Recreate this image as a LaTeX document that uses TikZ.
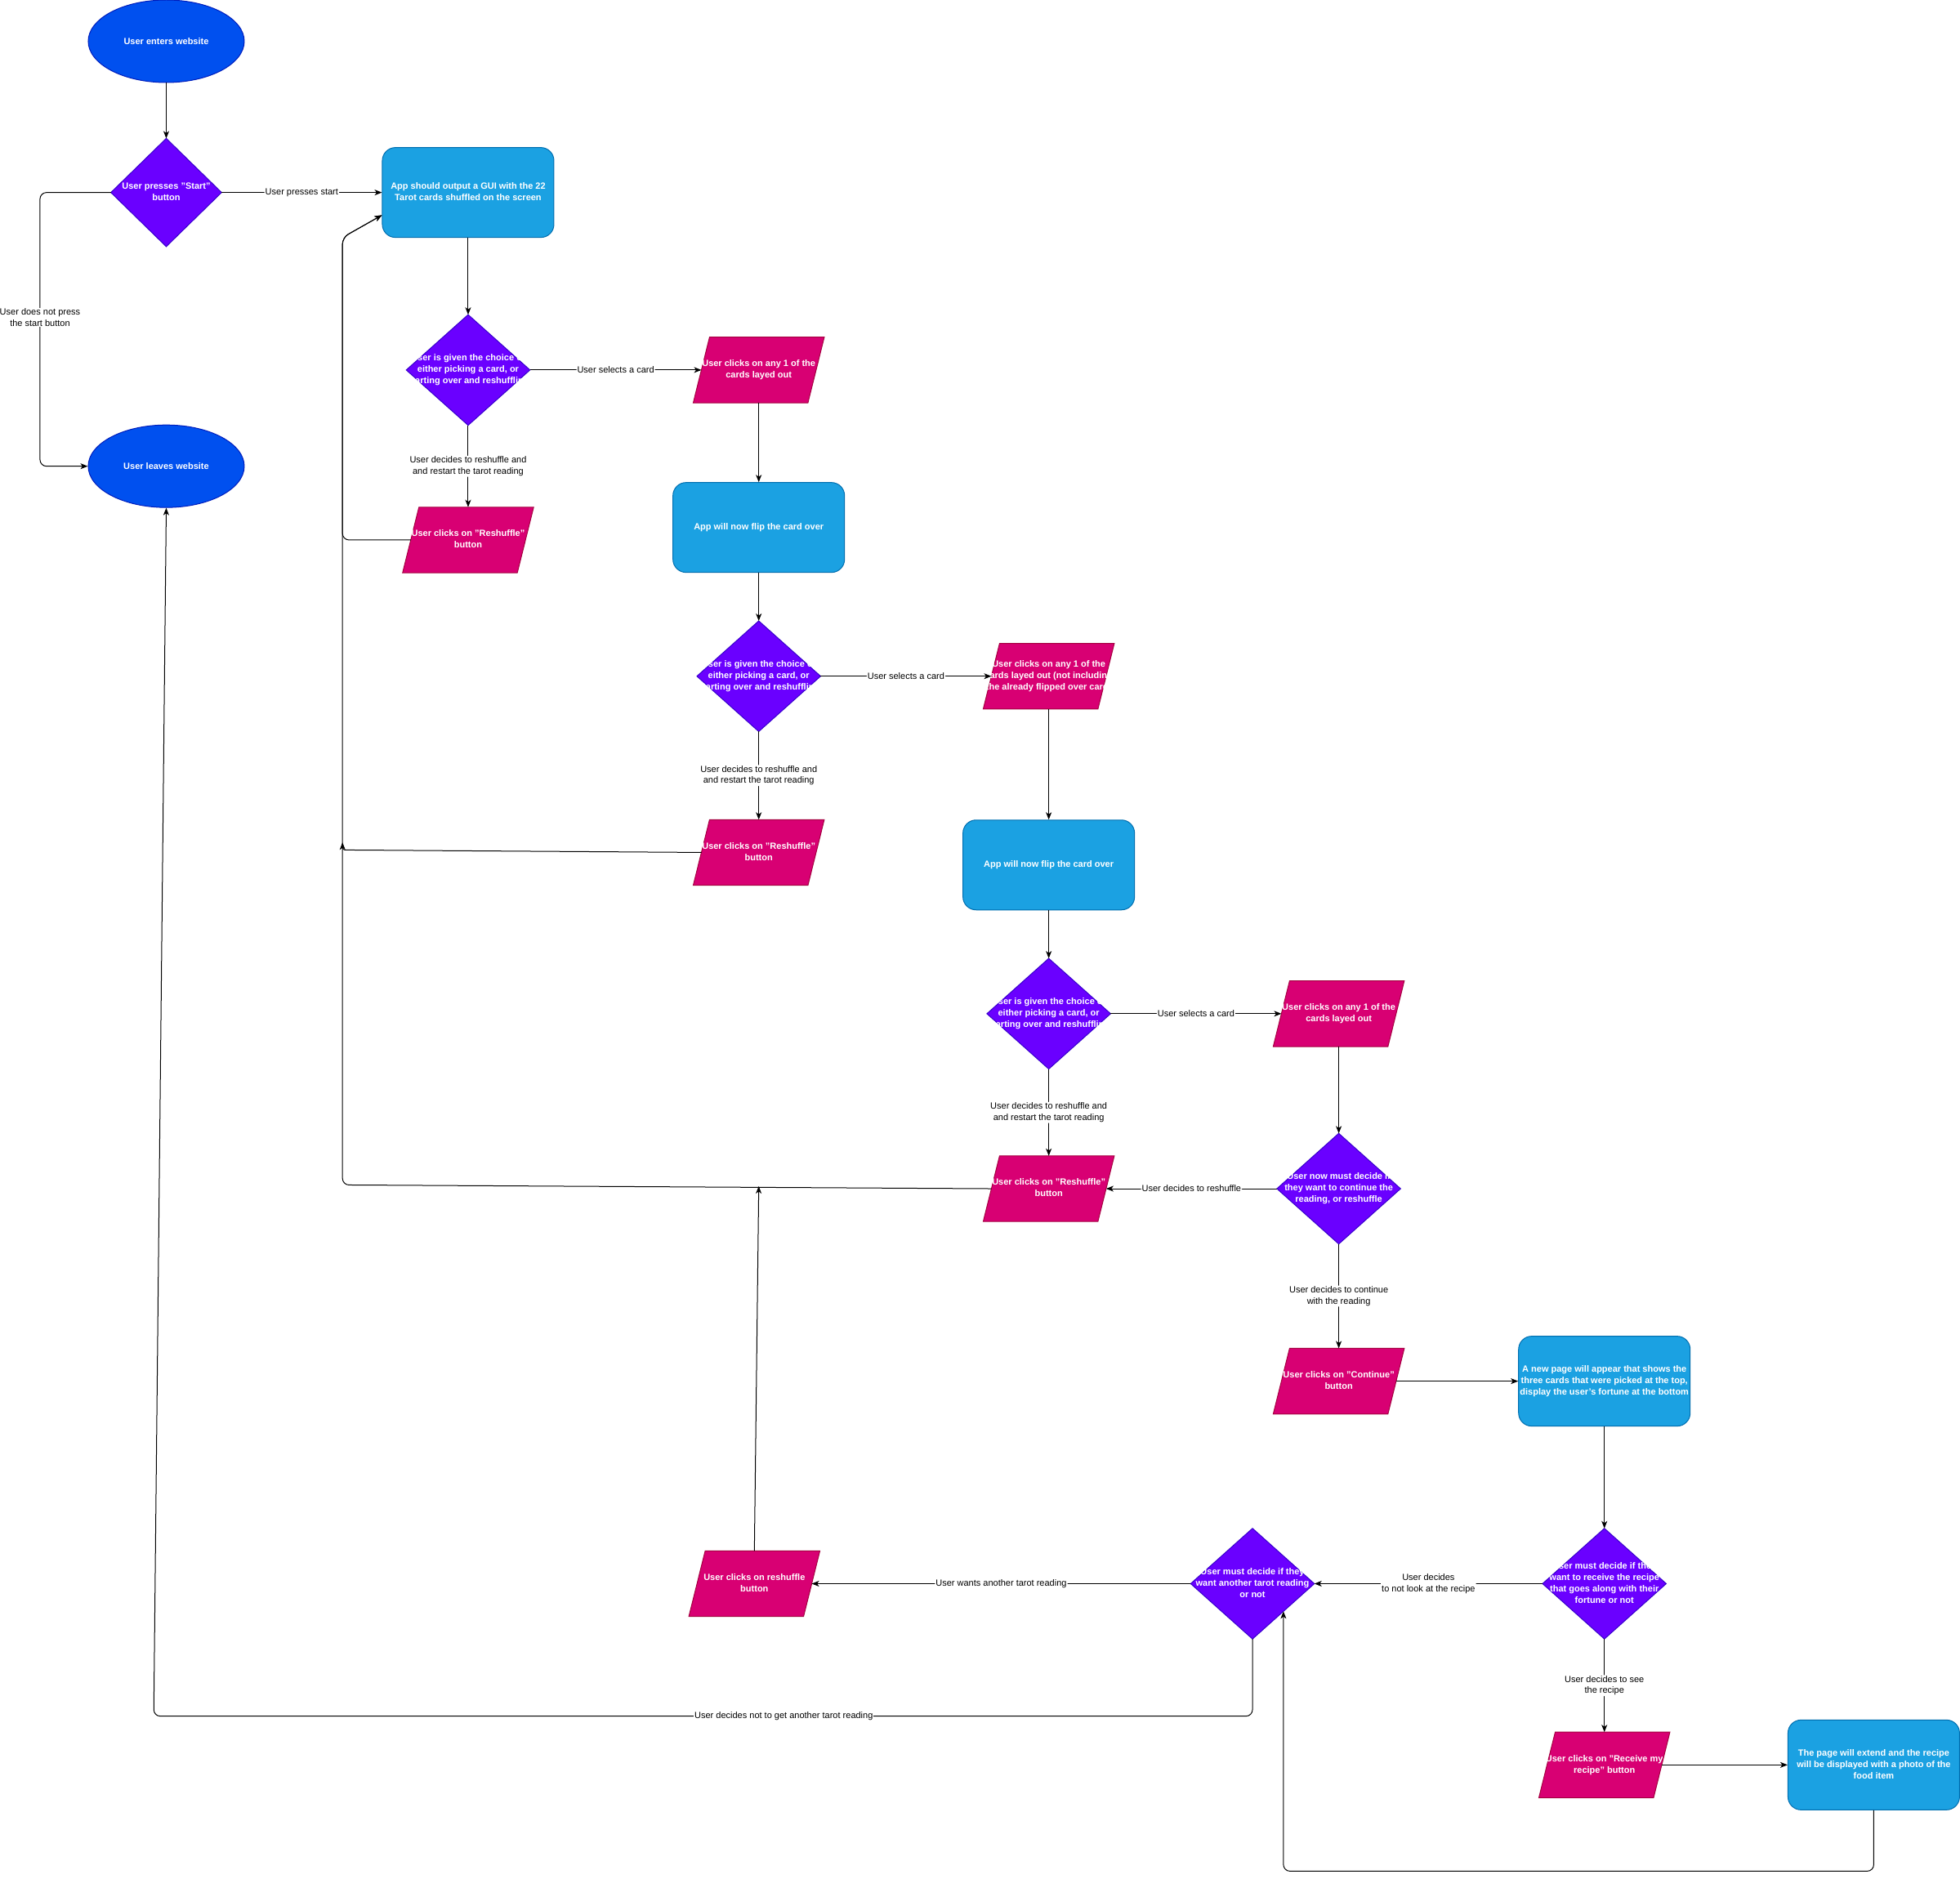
\documentclass[tikz,border=0pt]{standalone}
\usepackage{fontspec}
\setmainfont{Liberation Sans}
\usetikzlibrary{shapes.geometric,arrows.meta,calc,backgrounds}

\definecolor{ellfill}{HTML}{0050EF}
\definecolor{elldraw}{HTML}{001DBC}
\definecolor{decfill}{HTML}{6A00FF}
\definecolor{decdraw}{HTML}{3700CC}
\definecolor{iofill}{HTML}{D80073}
\definecolor{iodraw}{HTML}{A50040}
\definecolor{procfill}{HTML}{1BA1E2}
\definecolor{procdraw}{HTML}{006EAF}

% centred multi-line text of zero width, so it never widens its node
\newcommand{\ml}[1]{\makebox[0pt][c]{\begin{tabular}{@{}c@{}}#1\end{tabular}}}

\begin{document}
\begin{tikzpicture}[x=1.53pt, y=-1.53pt,
  base/.style={inner sep=0pt, text=white, font=\fontsize{11}{14}\selectfont\bfseries},
  terminal/.style={base, ellipse, fill=ellfill, draw=elldraw, line width=1pt,
    minimum width=191pt, minimum height=101pt},
  proc/.style={base, rectangle, rounded corners=16pt, fill=procfill, draw=procdraw,
    line width=1pt, minimum width=210pt, minimum height=110pt},
  decision/.style={base, rectangle, minimum width=151pt, minimum height=135pt},
  io/.style={base, rectangle, minimum width=140pt, minimum height=80pt},
  lbl/.style={fill=white, text=black, inner sep=1pt, align=center,
    font=\fontsize{11}{13.5}\selectfont},
  conn/.style={line width=1pt, rounded corners=8pt,
    -{Stealth[length=9pt, width=7pt, inset=2.5pt]}}
]
\useasboundingbox (0,0) rectangle (1568,1503);

% ---- start / first shuffle ----
\node[terminal] (e1) at (133,33) {User enters website};
\node[decision, minimum width=135pt, minimum height=132pt] (d1) at (133,154)
  {\ml{User presses "Start"\\button}};
\node[proc] (r1) at (374.5,154)
  {\ml{App should output a GUI with the 22\\Tarot cards shuffled on the screen}};
\node[terminal] (e2) at (133,373) {User leaves website};

% ---- first card ----
\node[decision] (d2) at (374.5,296)
  {\ml{User is given the choice of\\either picking a card, or\\starting over and reshuffling}};
\node[io] (p1) at (607,296) {\ml{User clicks on any 1 of the\\cards layed out}};
\node[io] (rs1) at (374.5,432) {\ml{User clicks on "Reshuffle"\\button}};
\node[proc] (r2) at (607,422) {\ml{App will now flip the card over}};

% ---- second card ----
\node[decision] (d3) at (607,541)
  {\ml{User is given the choice of\\either picking a card, or\\starting over and reshuffling}};
\node[io] (p2) at (839,541)
  {\ml{User clicks on any 1 of the\\cards layed out (not including\\the already flipped over card)}};
\node[io] (rs2) at (607,682) {\ml{User clicks on "Reshuffle"\\button}};
\node[proc] (r3) at (839,692) {\ml{App will now flip the card over}};

% ---- third card ----
\node[decision] (d4) at (839,811)
  {\ml{User is given the choice of\\either picking a card, or\\starting over and reshuffling}};
\node[io] (p3) at (1071,811) {\ml{User clicks on any 1 of the\\cards layed out}};
\node[io] (rs3) at (839,951) {\ml{User clicks on "Reshuffle"\\button}};
\node[decision] (d5) at (1071,951)
  {\ml{User now must decide if\\they want to continue the\\reading, or reshuffle}};

% ---- fortune and recipe ----
\node[io] (p4) at (1071,1105) {\ml{User clicks on "Continue"\\button}};
\node[proc] (r4) at (1283.5,1105)
  {\ml{A new page will appear that shows the\\three cards that were picked at the top,\\display the user's fortune at the bottom}};
\node[decision] (d6) at (1283.5,1267)
  {\ml{User must decide if they\\want to receive the recipe\\that goes along with their\\fortune or not}};
\node[decision] (d7) at (1002,1267)
  {\ml{User must decide if they\\want another tarot reading\\or not}};
\node[io] (p5) at (1283.5,1412) {\ml{User clicks on "Receive my\\recipe" button}};
\node[proc] (r5) at (1499,1412)
  {\ml{The page will extend and the recipe\\will be displayed with a photo of the\\food item}};
\node[io] (p6) at (603.5,1267) {\ml{User clicks on reshuffle\\button}};

% free ends of connectors that stop on other lines
\coordinate (c1) at (274,674);
\coordinate (c2) at (607,949);
\coordinate (r1in) at ($(r1.north west)!0.75!(r1.south west)$);
\coordinate (d7in) at ($(d7.east)!0.5!(d7.south)$);

% ---- connectors ----
\draw[conn] (e1.south) -- (d1.north);
\draw[conn] (d1.east) -- node[lbl] {User presses start} (r1.west);
\draw[conn] (d1.west) -- (32,154) -- (32,373) -- (e2.west);
\node[lbl] (l1) at (32,254) {User does not press\\the start button};
\draw[conn] (r1.south) -- (d2.north);
\draw[conn] (d2.east) -- node[lbl] {User selects a card} (p1.west);
\draw[conn] (d2.south) -- node[lbl] {User decides to reshuffle and\\and restart the tarot reading} (rs1.north);
\draw[conn] (rs1.west) -- (274,432) -- (274,190) -- (r1in);
\draw[conn] (p1.south) -- (r2.north);
\draw[conn] (r2.south) -- (d3.north);
\draw[conn] (d3.east) -- node[lbl] {User selects a card} (p2.west);
\draw[conn] (d3.south) -- node[lbl] {User decides to reshuffle and\\and restart the tarot reading} (rs2.north);
\draw[conn, rounded corners=3pt] (rs2.west) -- (274,680) -- (c1);
\draw[conn] (p2.south) -- (r3.north);
\draw[conn] (r3.south) -- (d4.north);
\draw[conn] (d4.east) -- node[lbl] {User selects a card} (p3.west);
\draw[conn] (d4.south) -- node[lbl] {User decides to reshuffle and\\and restart the tarot reading} (rs3.north);
\draw[conn] (rs3.west) -- (274,948) -- (274,190) -- (r1in);
\draw[conn] (p3.south) -- (d5.north);
\draw[conn] (d5.west) -- node[lbl] {User decides to reshuffle} (rs3.east);
\draw[conn] (d5.south) -- node[lbl] {User decides to continue\\with the reading} (p4.north);
\draw[conn] (p4.east) -- (r4.west);
\draw[conn] (r4.south) -- (d6.north);
\draw[conn] (d6.west) -- node[lbl] {User decides\\to not look at the recipe} (d7.east);
\draw[conn] (d6.south) -- node[lbl] {User decides to see\\the recipe} (p5.north);
\draw[conn] (p5.east) -- (r5.west);
\draw[conn] (r5.south) -- (r5.south |- 0,1497) -- (d7in |- 0,1497) -- (d7in);
\draw[conn] (d7.west) -- node[lbl] {User wants another tarot reading} (p6.east);
\draw[conn] (p6.north) -- (c2);
\draw[conn] (d7.south) -- (1002,1373) -- (123,1373) -- (e2.south);
\node[lbl] (l2) at (627,1373) {User decides not to get another tarot reading};

% ---- shapes drawn behind the texts ----
\begin{scope}[on background layer]
  \fill[white] (0,0) rectangle (1568,1503);
  \foreach \n in {d1,d2,d3,d4,d5,d6,d7}
    \filldraw[fill=decfill, draw=decdraw, line width=1pt]
      (\n.north) -- (\n.east) -- (\n.south) -- (\n.west) -- cycle;
  \foreach \n in {p1,p2,p3,p4,p5,p6,rs1,rs2,rs3}
    \filldraw[fill=iofill, draw=iodraw, line width=1pt]
      ($(\n.south west)+(-10pt,0)$) -- ($(\n.north west)+(10pt,0)$) --
      ($(\n.north east)+(10pt,0)$) -- ($(\n.south east)+(-10pt,0)$) -- cycle;
\end{scope}
\end{tikzpicture}
\end{document}
